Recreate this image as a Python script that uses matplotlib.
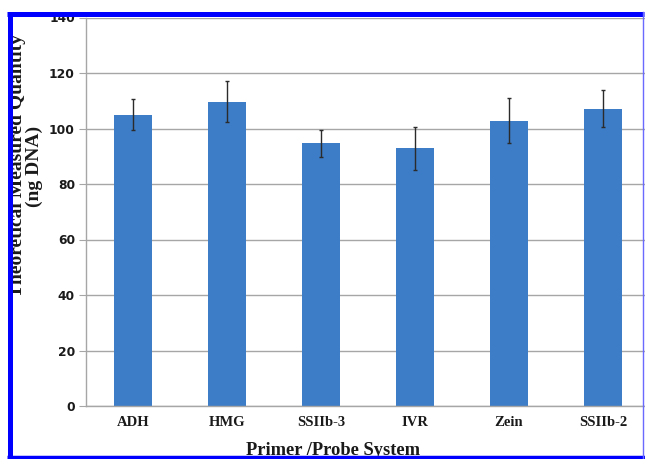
import matplotlib.pyplot as plt
from matplotlib.patches import Rectangle
from matplotlib.lines import Line2D

# DNA quantity per primer/probe system, with error bars
systems = ['ADH', 'HMG', 'SSIIb-3', 'IVR', 'Zein', 'SSIIb-2']
quantity = [105.0, 109.7, 94.7, 92.8, 102.8, 107.2]
error = [5.5, 7.5, 4.9, 7.7, 8.2, 6.8]

fig = plt.figure(figsize=(6.45, 4.59), dpi=100)
W, H = 645.0, 459.0

ax = fig.add_axes([86 / W, (H - 406) / H, 564 / W, (406 - 17.5) / H])
x = range(len(systems))
ax.bar(x, quantity, width=0.4, color='#3d7cc6', zorder=2)
ax.errorbar(x, quantity, yerr=error, fmt='none', ecolor='#2b2b2b',
            elinewidth=1.0, capsize=1.6, capthick=1.0, zorder=3)

ax.set_xlim(-0.5, 5.5)
ax.set_ylim(0, 140)
ax.set_yticks(range(0, 141, 20))
ax.yaxis.grid(True, color='#a6a6a6', linewidth=1.0, zorder=0)
ax.set_axisbelow(True)
for s in ['top', 'right']:
    ax.spines[s].set_visible(False)
for s in ['left', 'bottom']:
    ax.spines[s].set_color('#a6a6a6')
    ax.spines[s].set_linewidth(1.0)
ax.tick_params(axis='y', length=5, color='#a6a6a6', pad=3)
ax.tick_params(axis='x', length=0, pad=7)

ax.set_xticks(list(x))
ax.set_xticklabels(systems, family='Liberation Serif', fontweight='bold',
                   fontsize=10.5, color='#1a1a1a')
for lab in ax.get_yticklabels():
    lab.set_fontfamily('DejaVu Sans')
    lab.set_fontweight('bold')
    lab.set_fontsize(8.8)
    lab.set_color('#1a1a1a')

fig.text(26 / W, 1 - 166 / H, 'Theoretical Measured Quantity\n(ng DNA)',
         rotation=90, ha='center', va='center', multialignment='center',
         linespacing=0.95, family='Liberation Serif', fontweight='bold',
         fontsize=14, color='#1a1a1a')
fig.text(333 / W, 1 - 455 / H, 'Primer /Probe System', ha='center',
         va='baseline', family='Liberation Serif', fontweight='bold',
         fontsize=13.3, color='#1a1a1a')

# blue frame around the chart, white strip above it
fig.patches.append(Rectangle((0, 1 - 12 / H), 1, 12 / H, transform=fig.transFigure,
                             facecolor='white', edgecolor='none', zorder=10))
frame = dict(transform=fig.transFigure, color='#0000ff', zorder=11,
             solid_capstyle='butt')
fig.lines.append(Line2D([7 / W, 644 / W], [1 - 14 / H, 1 - 14 / H], linewidth=3.6, **frame))
fig.lines.append(Line2D([9.5 / W, 9.5 / W], [1 - 12 / H, 1 - 459 / H], linewidth=3.6, **frame))
fig.lines.append(Line2D([7 / W, 645 / W], [1 - 456.5 / H, 1 - 456.5 / H], linewidth=2.5, **frame))
fig.lines.append(Line2D([643 / W, 643 / W], [1 - 12 / H, 1 - 459 / H], linewidth=1.0,
                        transform=fig.transFigure, color='#6a6aff', zorder=11))

fig.savefig('out.png', dpi=100)
